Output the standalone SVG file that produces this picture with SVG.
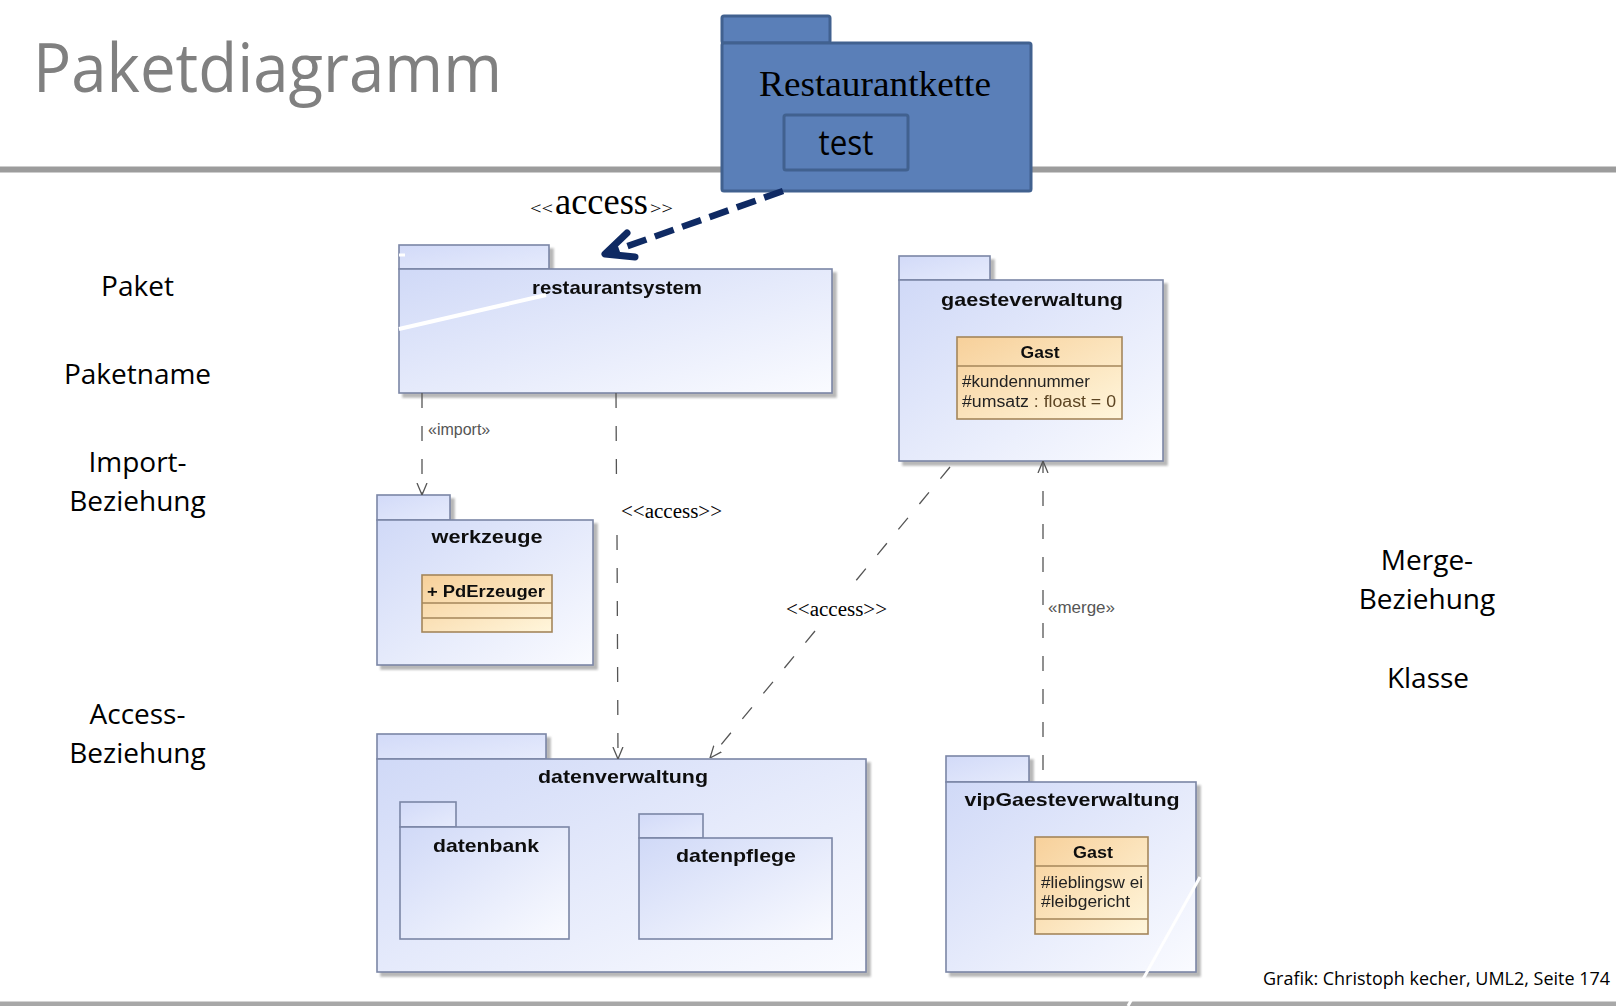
<svg xmlns="http://www.w3.org/2000/svg" width="1616" height="1006" viewBox="0 0 1616 1006">
<defs>
<linearGradient id="pkgGrad" x1="0" y1="0" x2="1" y2="1">
<stop offset="0" stop-color="#d0d9f7"/>
<stop offset="1" stop-color="#fafbff"/>
</linearGradient>
<linearGradient id="tabGrad" x1="0" y1="0" x2="1" y2="1">
<stop offset="0" stop-color="#d2daf8"/>
<stop offset="1" stop-color="#e6ebfc"/>
</linearGradient>
<linearGradient id="clsGrad" x1="0" y1="0" x2="1" y2="1">
<stop offset="0" stop-color="#f7d09a"/>
<stop offset="1" stop-color="#fff6dc"/>
</linearGradient>
<filter id="shadow" x="-10%" y="-10%" width="130%" height="130%">
<feDropShadow dx="4" dy="4" stdDeviation="1.2" flood-color="#888888" flood-opacity="0.6"/>
</filter>
<marker id="open" viewBox="0 0 12 12" refX="12" refY="6" markerWidth="12" markerHeight="12" markerUnits="userSpaceOnUse" orient="auto">
<path d="M0,1 L12,6 L0,11" fill="none" stroke="#555555" stroke-width="1.3"/>
</marker>
<style>
.pkg{fill:url(#pkgGrad);stroke:#7b86a6;stroke-width:1.6}
.tab{fill:url(#tabGrad);stroke:#7b86a6;stroke-width:1.6}
.cls{fill:url(#clsGrad);stroke:#a4865a;stroke-width:1.6}
.sep{stroke:#a4865a;stroke-width:1.4}
.pname{font-family:"Liberation Sans",Arial,sans-serif;font-weight:bold;font-size:19px;fill:#111;text-anchor:middle}
.cname{font-family:"Liberation Sans",Arial,sans-serif;font-weight:bold;font-size:16px;fill:#111}
.attr{font-family:"Liberation Sans",Arial,sans-serif;font-size:16px;fill:#222}
.side{font-family:"Open Sans","Liberation Sans",sans-serif;font-size:28px;fill:#000;text-anchor:middle}
.dep{fill:none;stroke:#555555;stroke-width:1.3;stroke-dasharray:15 18}
.ster{font-family:"Liberation Serif","Times New Roman",serif;font-size:20px;fill:#000}
.stsans{font-family:"Liberation Sans",Arial,sans-serif;font-size:16px;fill:#555}
</style>
</defs>
<rect x="0" y="0" width="1616" height="1006" fill="#ffffff"/>
<g id="frame">
<line x1="0" y1="169.5" x2="1616" y2="169.5" stroke="#9c9c9c" stroke-width="6"/>
<line x1="0" y1="1004" x2="1616" y2="1004" stroke="#a8a8a8" stroke-width="5"/>
<text x="33" y="92" font-family="'Open Sans','Liberation Sans',sans-serif" font-size="68" fill="#808080" textLength="469" lengthAdjust="spacingAndGlyphs">Paketdiagramm</text>
<text class="side" x="137.5" y="296">Paket</text>
<text class="side" x="137.5" y="384">Paketname</text>
<text class="side" x="137.5" y="472">Import-</text>
<text class="side" x="137.5" y="511">Beziehung</text>
<text class="side" x="137.5" y="724">Access-</text>
<text class="side" x="137.5" y="763">Beziehung</text>
<text class="side" x="1427" y="570">Merge-</text>
<text class="side" x="1427" y="609">Beziehung</text>
<text class="side" x="1428" y="688">Klasse</text>
<text x="1263" y="985" font-family="'Open Sans','Liberation Sans',sans-serif" font-size="18" fill="#000" textLength="347" lengthAdjust="spacingAndGlyphs">Grafik: Christoph kecher, UML2, Seite 174</text>
</g>
<g id="restaurantkette">
<rect x="722" y="16" width="108" height="27" rx="2" fill="#5a7fb8" stroke="#41618f" stroke-width="3"/>
<rect x="722" y="43" width="309" height="148" rx="2" fill="#5a7fb8" stroke="#41618f" stroke-width="3"/>
<text x="875" y="96" font-family="'Liberation Serif','Times New Roman',serif" font-size="36" fill="#000" text-anchor="middle" textLength="232" lengthAdjust="spacingAndGlyphs">Restaurantkette</text>
<rect x="784" y="115" width="124" height="55" rx="2" fill="#5a7fb8" stroke="#41618f" stroke-width="3"/>
<text x="846" y="155" font-family="'Open Sans','Liberation Sans',sans-serif" font-size="34" fill="#000" text-anchor="middle" textLength="55" lengthAdjust="spacingAndGlyphs">test</text>
</g>
<g id="restaurantsystem" filter="url(#shadow)">
<rect class="tab" x="399" y="245" width="150" height="24"/>
<rect class="pkg" x="399" y="269" width="433" height="124"/>
<text class="pname" x="617" y="294" textLength="170" lengthAdjust="spacingAndGlyphs">restaurantsystem</text>
</g>
<g id="gaesteverwaltung" filter="url(#shadow)">
<rect class="tab" x="899" y="256" width="91" height="24"/>
<rect class="pkg" x="899" y="280" width="264" height="181"/>
<text class="pname" x="1032" y="306" textLength="182" lengthAdjust="spacingAndGlyphs">gaesteverwaltung</text>
<g id="gast1">
<rect class="cls" x="957" y="337" width="165" height="82"/>
<line class="sep" x1="957" y1="366" x2="1122" y2="366"/>
<text class="cname" x="1040" y="358" text-anchor="middle" textLength="39" lengthAdjust="spacingAndGlyphs">Gast</text>
<text class="attr" x="962" y="387" textLength="128" lengthAdjust="spacingAndGlyphs">#kundennummer</text>
<text class="attr" x="962" y="407" textLength="154" lengthAdjust="spacingAndGlyphs">#umsatz<tspan fill="#5c4422"> : floast = 0</tspan></text>
</g>
</g>
<g id="werkzeuge" filter="url(#shadow)">
<rect class="tab" x="377" y="495" width="73" height="25"/>
<rect class="pkg" x="377" y="520" width="216" height="145"/>
<text class="pname" x="487" y="543" textLength="111" lengthAdjust="spacingAndGlyphs">werkzeuge</text>
<g id="pderzeuger">
<rect class="cls" x="422" y="575" width="130" height="57"/>
<line class="sep" x1="422" y1="603" x2="552" y2="603"/>
<line class="sep" x1="422" y1="618" x2="552" y2="618"/>
<text class="cname" x="427" y="597" textLength="118" lengthAdjust="spacingAndGlyphs">+ PdErzeuger</text>
</g>
</g>
<g id="datenverwaltung" filter="url(#shadow)">
<rect class="tab" x="377" y="734" width="169" height="25"/>
<rect class="pkg" x="377" y="759" width="489" height="213"/>
<text class="pname" x="623" y="783" textLength="170" lengthAdjust="spacingAndGlyphs">datenverwaltung</text>
<g id="datenbank">
<rect class="tab" x="400" y="802" width="56" height="25"/>
<rect class="pkg" x="400" y="827" width="169" height="112"/>
<text class="pname" x="486" y="852" textLength="106" lengthAdjust="spacingAndGlyphs">datenbank</text>
</g>
<g id="datenpflege">
<rect class="tab" x="639" y="814" width="64" height="24"/>
<rect class="pkg" x="639" y="838" width="193" height="101"/>
<text class="pname" x="736" y="862" textLength="120" lengthAdjust="spacingAndGlyphs">datenpflege</text>
</g>
</g>
<g id="vipGaesteverwaltung" filter="url(#shadow)">
<rect class="tab" x="946" y="756" width="83" height="26"/>
<rect class="pkg" x="946" y="782" width="250" height="190"/>
<text class="pname" x="1072" y="806" textLength="215" lengthAdjust="spacingAndGlyphs">vipGaesteverwaltung</text>
<g id="gast2">
<rect class="cls" x="1035" y="837" width="113" height="97"/>
<line class="sep" x1="1035" y1="866" x2="1148" y2="866"/>
<line class="sep" x1="1035" y1="919" x2="1148" y2="919"/>
<text class="cname" x="1093" y="858" text-anchor="middle" textLength="40" lengthAdjust="spacingAndGlyphs">Gast</text>
<text class="attr" x="1041" y="888" textLength="102" lengthAdjust="spacingAndGlyphs">#lieblingsw ei</text>
<text class="attr" x="1041" y="907" textLength="89" lengthAdjust="spacingAndGlyphs">#leibgericht</text>
</g>
</g>
<g id="connectors">
<line x1="783" y1="191" x2="611" y2="252" stroke="#0f2a63" stroke-width="6.5" stroke-dasharray="20 9"/>
<polyline points="627,233 605,254 635,257" fill="none" stroke="#0f2a63" stroke-width="7" stroke-linecap="round" stroke-linejoin="round"/>
<text y="214" font-family="'Liberation Serif','Times New Roman',serif" fill="#000"><tspan x="530" font-size="17" textLength="23" lengthAdjust="spacingAndGlyphs">&lt;&lt;</tspan><tspan x="555" font-size="37" textLength="93" lengthAdjust="spacingAndGlyphs">access</tspan><tspan x="650" font-size="17" textLength="23" lengthAdjust="spacingAndGlyphs">&gt;&gt;</tspan></text>
<line class="dep" x1="422" y1="393" x2="422" y2="495" marker-end="url(#open)"/>
<text class="stsans" x="428" y="435">«import»</text>
<line class="dep" x1="616" y1="393" x2="616.5" y2="490"/>
<line class="dep" x1="617" y1="535" x2="618" y2="759" marker-end="url(#open)"/>
<text class="ster" x="621" y="518" textLength="101" lengthAdjust="spacingAndGlyphs">&lt;&lt;access&gt;&gt;</text>
<line class="dep" x1="950" y1="467" x2="854" y2="583"/>
<line class="dep" x1="815" y1="631" x2="710" y2="758" marker-end="url(#open)"/>
<text class="ster" x="786" y="616" textLength="101" lengthAdjust="spacingAndGlyphs">&lt;&lt;access&gt;&gt;</text>
<line class="dep" x1="1043" y1="770" x2="1043" y2="461" marker-end="url(#open)"/>
<text class="stsans" x="1048" y="613" textLength="67" lengthAdjust="spacingAndGlyphs">«merge»</text>
</g>
<g id="artifacts">
<line x1="399" y1="329" x2="546" y2="295" stroke="#ffffff" stroke-width="4"/>
<line x1="399" y1="255" x2="405" y2="255" stroke="#ffffff" stroke-width="3"/>
<line x1="1200" y1="877" x2="1128" y2="1006" stroke="#ffffff" stroke-width="3"/>
</g>
</svg>
